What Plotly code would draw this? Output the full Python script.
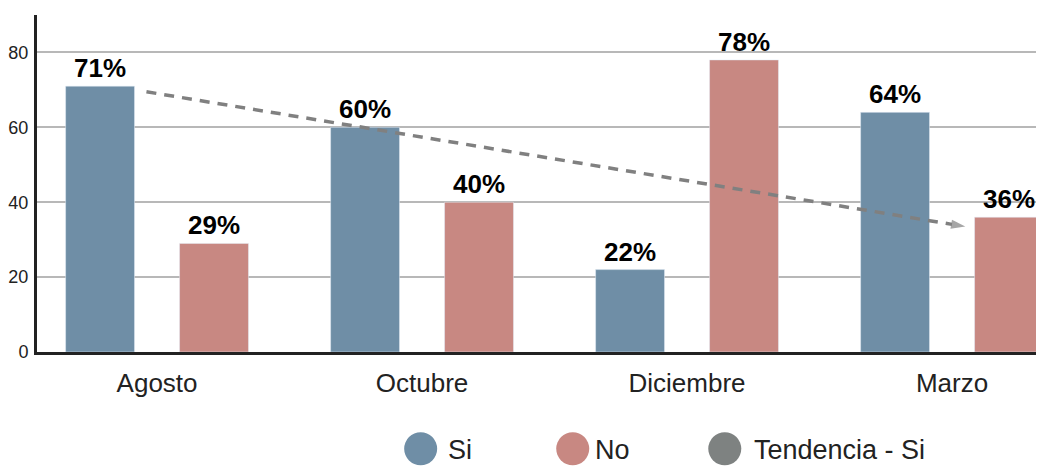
import plotly.graph_objects as go

months = ["Agosto", "Octubre", "Diciembre", "Marzo"]
si_values = [71, 60, 22, 64]
no_values = [29, 40, 78, 36]
si_labels = ["71%", "60%", "22%", "64%"]
no_labels = ["29%", "40%", "78%", "36%"]
trend_x = [-0.04, 3.05]
trend_y = [69.5, 33.5]

blue = "#6f8ea6"
pink = "#c88882"
gray = "#808080"
FONT = "Liberation Sans"

pos = list(range(len(months)))

fig = go.Figure()

fig.add_trace(go.Bar(
    x=pos, y=si_values, text=si_labels, name="Si",
    width=0.26, offset=-0.345,
    marker_color=blue, textposition="outside",
    textfont=dict(size=26, color="#000", family=FONT, weight="bold"),
    cliponaxis=False, showlegend=False,
))
fig.add_trace(go.Bar(
    x=pos, y=no_values, text=no_labels, name="No",
    width=0.26, offset=0.085,
    marker_color=pink, textposition="outside",
    textfont=dict(size=26, color="#000", family=FONT, weight="bold"),
    cliponaxis=False, showlegend=False,
))

fig.add_trace(go.Scatter(
    x=trend_x, y=trend_y, mode="lines+markers", name="Tendencia - Si",
    line=dict(color=gray, width=3.5, dash="10px,8px"),
    marker=dict(symbol=["circle", "arrow"], size=[0, 15], angleref="previous",
                color=gray, line_width=0),
    showlegend=False, cliponaxis=False,
))

# legend drawn below the plot: big circles + labels (x in paper units, text gap px)
legend_items = [("Si", blue, 0.381, 9), ("No", pink, 0.532, 4),
                ("Tendencia - Si", "#7e8281", 0.683, 11)]
for name, col, cx, gap in legend_items:
    fig.add_shape(type="circle", xref="paper", yref="paper",
                  xsizemode="pixel", ysizemode="pixel",
                  xanchor=cx, yanchor=-0.287,
                  x0=-16.5, x1=16.5, y0=-16.5, y1=16.5,
                  fillcolor=col, line_width=0)
    fig.add_annotation(text=name, xref="paper", yref="paper",
                       x=cx, y=-0.29, xanchor="left", yanchor="middle",
                       xshift=16.5 + gap, showarrow=False,
                       font=dict(size=27, color="#222", family=FONT))

fig.update_layout(
    width=1036, height=462,
    margin=dict(l=29, r=0, t=7, b=118),
    plot_bgcolor="white", paper_bgcolor="white",
    font=dict(family=FONT, color="#222"),
    showlegend=False,
)
fig.update_xaxes(
    range=[-0.453, 3.347], tickvals=pos, ticktext=months,
    showline=True, linewidth=3, linecolor="#222", showgrid=False,
    ticks="", tickfont=dict(size=26, color="#222"), ticklabelstandoff=6,
)
fig.update_yaxes(
    range=[0, 90], tickvals=[0, 20, 40, 60, 80],
    showline=True, linewidth=3, linecolor="#222",
    gridcolor="#b8b8b8", gridwidth=1.5, zeroline=False,
    ticks="", tickfont=dict(size=18, color="#222"), ticklabelstandoff=2,
)

fig.write_html("out.html")
